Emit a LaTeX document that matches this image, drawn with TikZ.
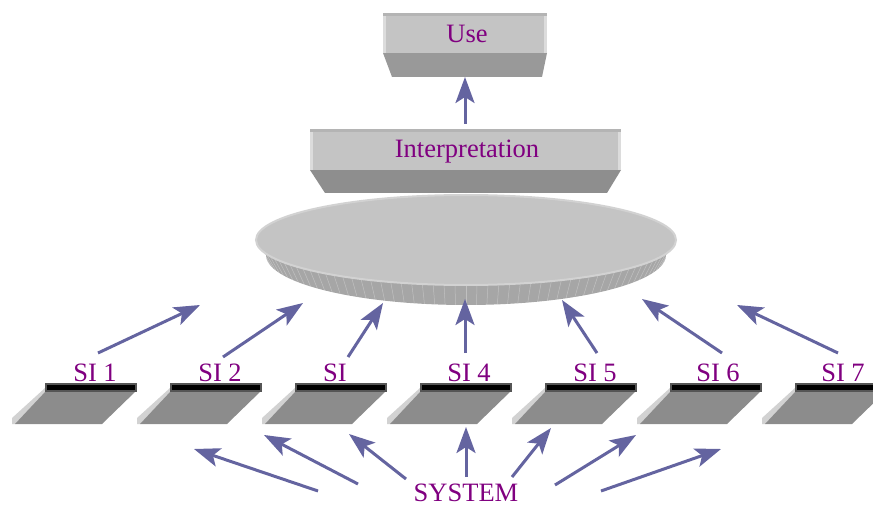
\documentclass[tikz,border=0pt]{standalone}
\usepackage{fontspec}
\setmainfont{Liberation Serif}
\usetikzlibrary{arrows.meta,shapes.geometric}
\definecolor{arrowc}{HTML}{6464A0}
\definecolor{txtc}{HTML}{800080}
\definecolor{facec}{HTML}{C4C4C4}
\definecolor{topedge}{HTML}{B4B4B4}
\definecolor{sideedge}{HTML}{DCDCDC}
\definecolor{botc}{HTML}{999999}
\definecolor{botcb}{HTML}{8E8E8E}
\definecolor{diskside}{HTML}{A6A6A6}
\definecolor{diskrim}{HTML}{D2D2D2}
\definecolor{tabc}{HTML}{8C8C8C}
\definecolor{tablight}{HTML}{D2D2D2}
\definecolor{barc}{HTML}{555555}
\begin{document}
\begin{tikzpicture}[x=1pt,y=-1pt,
  arr/.style={draw=arrowc, line width=3pt, -{Stealth[length=26pt,width=19pt,inset=6pt,fill=arrowc]}},
  lbl/.style={text=txtc, font=\fontsize{26.5}{30}\selectfont, inner sep=0pt, anchor=base},
  stripe/.style={draw=white, opacity=.3, line width=.5pt}]
\useasboundingbox (0,0) rectangle (873,505);

% ---- Use box
\fill[botc] (383,53) -- (547,53) -- (542,77) -- (392,77) -- cycle;
\fill[facec] (383,13) rectangle (547,53);
\fill[topedge] (383,13) rectangle (547,16);
\fill[sideedge] (383,16) rectangle (386,53);
\fill[sideedge] (544,16) rectangle (547,53);
\node[lbl] (use) at (467,43) {Use};

% ---- Interpretation box
\fill[botcb] (310,170) -- (621,170) -- (607,193) -- (325,193) -- cycle;
\fill[facec] (310,129) rectangle (621,170);
\fill[topedge] (310,129) rectangle (621,132);
\fill[sideedge] (310,132) rectangle (313,170);
\fill[sideedge] (618,132) rectangle (621,170);
\node[lbl] (interp) at (467,158) {Interpretation};

% ---- Disk
\fill[diskside] (676,240) -- (666,255)
  -- plot[domain=0:180,samples=90] ({466+200*cos(\x)},{255+50*sin(\x)})
  -- (256,240) -- cycle;
\begin{scope}
  \clip (676,240) -- (666,255)
    -- plot[domain=0:180,samples=90] ({466+200*cos(\x)},{255+50*sin(\x)})
    -- (256,240) -- cycle;
  \foreach \t in {3,6,...,177}
    \draw[stripe] ({466+210*cos(\t)},{240+45*sin(\t)}) -- ({466+200*cos(\t)},{255+50*sin(\t)});
\end{scope}
\node[draw=diskrim, line width=2pt, fill=facec, ellipse, minimum width=420pt, minimum height=90pt, inner sep=0pt] (disk) at (466,240) {};

% ---- SI tablets
\foreach \x in {46,171,296,421,546,671,796}{
  \fill[tablight] (\x-1,388) -- (\x+2,391) -- (\x-31,424) -- (\x-34,424) -- (\x-34,418) -- cycle;
  \fill[tabc] (\x,391) -- (\x+90,391) -- (\x+56,424) -- (\x-31,424) -- cycle;
  \draw[fill=black, draw=barc, line width=2pt] (\x,383.5) rectangle (\x+90,390.5);
}
\node[lbl] (si1) at (95,381) {SI 1};
\node[lbl] (si2) at (220,381) {SI 2};
\node[lbl] (si3) at (335,381) {SI};
\node[lbl] (si4) at (469,381) {SI 4};
\node[lbl] (si5) at (595,381) {SI 5};
\node[lbl] (si6) at (718,381) {SI 6};
\node[lbl] (si7) at (843,381) {SI 7};
\node[lbl] (system) at (466,501) {SYSTEM};

% ---- arrow ends
\coordinate (u1) at (465,124); \coordinate (u2) at (465,77);
\coordinate (a1s) at (98,353);  \coordinate (a1e) at (200,305);
\coordinate (a2s) at (223,357); \coordinate (a2e) at (303,303);
\coordinate (a3s) at (348,357); \coordinate (a3e) at (383,303);
\coordinate (a4s) at (465,353); \coordinate (a4e) at (465,299);
\coordinate (a5s) at (597,353); \coordinate (a5e) at (562,300);
\coordinate (a6s) at (722,353); \coordinate (a6e) at (642,299);
\coordinate (a7s) at (838,353); \coordinate (a7e) at (737,305);
\coordinate (b1s) at (318,491); \coordinate (b1e) at (194,449);
\coordinate (b2s) at (358,484); \coordinate (b2e) at (264,435);
\coordinate (b3s) at (406,479); \coordinate (b3e) at (349,434);
\coordinate (b4s) at (466,477); \coordinate (b4e) at (466,427);
\coordinate (b5s) at (512,477); \coordinate (b5e) at (551,428);
\coordinate (b6s) at (555,485); \coordinate (b6e) at (636,435);
\coordinate (b7s) at (601,491); \coordinate (b7e) at (721,449);

\draw[arr] (u1) -- (u2);
\foreach \n in {1,...,7}{
  \draw[arr] (a\n s) -- (a\n e);
  \draw[arr] (b\n s) -- (b\n e);
}
\end{tikzpicture}
\end{document}
